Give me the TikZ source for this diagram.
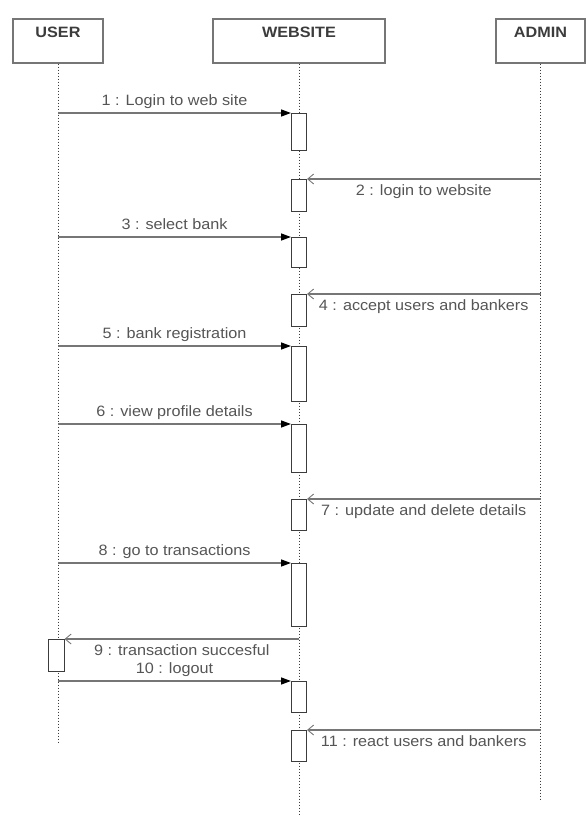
\documentclass[tikz,border=0pt]{standalone}
\usepackage{fontspec}
\setmainfont{Liberation Sans}[FakeStretch=1.08]
\usetikzlibrary{arrows.meta,shadows}
\definecolor{linec}{RGB}{118,118,118}
\definecolor{textc}{RGB}{85,85,85}
\definecolor{headc}{RGB}{60,60,60}
\tikzset{
  head/.style={draw=linec, line width=1.5pt, fill=white, anchor=north,
    drop shadow={shadow xshift=1.2pt, shadow yshift=-1.2pt, opacity=0.25, fill=gray},
    font=\bfseries\fontsize{15}{18}\selectfont, text=headc,
    inner ysep=0pt, text height=19pt, text depth=25pt},
  lifeline/.style={draw=headc, line width=1pt, dash pattern=on 1pt off 2pt},
  act/.style={draw=headc, line width=1pt, fill=white, minimum width=15pt,
    inner sep=0pt, anchor=north},
  sync/.style={draw=linec, line width=1.4pt, -{Triangle[length=10pt,width=7pt,color=black]}},
  async/.style={draw=linec, line width=1.4pt, -{Straight Barb[length=6pt,width=10pt,line width=0.9pt]}},
  labtext/.style={font=\fontsize{15}{18}\selectfont, text=textc, inner sep=0pt},
  labup/.style={labtext, anchor=base, yshift=8pt},
  labdown/.style={labtext, anchor=base, yshift=-16pt}
}
\begin{document}
\begin{tikzpicture}[x=1pt,y=-1pt]
\useasboundingbox (0,0) rectangle (586,819);
% heads
\node[head, minimum width=90pt] (user) at (58,18) {USER};
\node[head, minimum width=172pt] (website) at (299,18) {WEBSITE};
\node[head, minimum width=89pt] (admin) at (540.5,18) {ADMIN};
% lifeline ends
\coordinate (userend) at (58,742);
\coordinate (webend) at (299,815);
\coordinate (adminend) at (540.5,800);
\draw[lifeline] (user.south) -- (userend);
\draw[lifeline] (website.south) -- (webend);
\draw[lifeline] (admin.south) -- (adminend);
% activations
\node[act, minimum height=37pt] (a1) at (299,113) {};
\node[act, minimum height=32pt] (a2) at (299,179) {};
\node[act, minimum height=30pt] (a3) at (299,237) {};
\node[act, minimum height=32pt] (a4) at (299,294) {};
\node[act, minimum height=55pt] (a5) at (299,346) {};
\node[act, minimum height=48pt] (a6) at (299,424) {};
\node[act, minimum height=31pt] (a7) at (299,499) {};
\node[act, minimum height=63pt] (a8) at (299,563) {};
\node[act, minimum height=32pt, minimum width=16pt] (u9) at (56,639) {};
\node[act, minimum height=31pt] (a10) at (299,681) {};
\node[act, minimum height=31pt] (a11) at (299,730) {};
% messages
\draw[sync] (user |- a1.north) -- (a1.north west) node[midway, labup] {1 : Login to web site};
\draw[async] (admin |- a2.north) -- (a2.north east) node[midway, labdown] {2 : login to website};
\draw[sync] (user |- a3.north) -- (a3.north west) node[midway, labup] {3 : select bank};
\draw[async] (admin |- a4.north) -- (a4.north east) node[midway, labdown] {4 : accept users and bankers};
\draw[sync] (user |- a5.north) -- (a5.north west) node[midway, labup] {5 : bank registration};
\draw[sync] (user |- a6.north) -- (a6.north west) node[midway, labup] {6 : view profile details};
\draw[async] (admin |- a7.north) -- (a7.north east) node[midway, labdown] {7 : update and delete details};
\draw[sync] (user |- a8.north) -- (a8.north west) node[midway, labup] {8 : go to transactions};
\draw[async] (website |- u9.north) -- (u9.north east) node[midway, labdown] {9 : transaction succesful};
\draw[sync] (user |- a10.north) -- (a10.north west) node[midway, labup] {10 : logout};
\draw[async] (admin |- a11.north) -- (a11.north east) node[midway, labdown] {11 : react users and bankers};
\end{tikzpicture}
\end{document}
